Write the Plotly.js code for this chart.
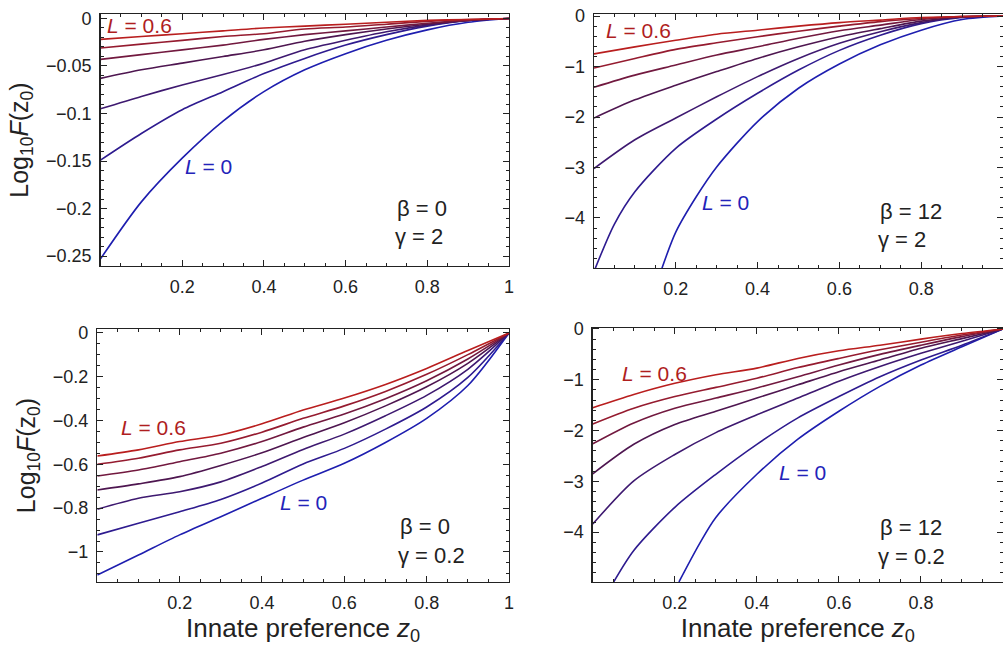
<!DOCTYPE html>
<html>
<head>
<meta charset="utf-8">
<script src="https://cdn.plot.ly/plotly-3.0.1.min.js"></script>
<style>html,body{margin:0;padding:0;background:#fff}#chart{width:1003px;height:652px}</style>
</head>
<body>
<div id="chart"></div>
<script>
// ---------- data ----------
const L_values = [0, 0.1, 0.2, 0.3, 0.4, 0.5, 0.6];
const zGrid = [0, 0.1, 0.2, 0.3, 0.4, 0.5, 0.6, 0.7, 0.8, 0.9, 1.0];

// Panel A: beta = 0, gamma = 2 (rows: L = 0 ... 0.6)
const panelA_logF = [
  [-0.253, -0.193, -0.147, -0.108, -0.077, -0.054, -0.037, -0.023, -0.012, -0.004, 0],
  [-0.149, -0.121, -0.096, -0.077, -0.058, -0.042, -0.028, -0.017, -0.008, -0.002, 0],
  [-0.095, -0.082, -0.070, -0.059, -0.047, -0.033, -0.023, -0.014, -0.007, -0.002, 0],
  [-0.063, -0.054, -0.047, -0.040, -0.033, -0.024, -0.017, -0.011, -0.006, -0.002, 0],
  [-0.043, -0.038, -0.033, -0.028, -0.022, -0.017, -0.013, -0.009, -0.005, -0.002, 0],
  [-0.031, -0.027, -0.023, -0.019, -0.016, -0.011, -0.009, -0.006, -0.003, -0.001, 0],
  [-0.022, -0.019, -0.016, -0.013, -0.010, -0.008, -0.006, -0.004, -0.002, -0.001, 0]
];

// Panel B: beta = 12, gamma = 2
const panelB_z_L0 = [0.166, 0.2, 0.25, 0.3, 0.4, 0.5, 0.6, 0.7, 0.8, 0.9, 1.0];
const panelB_logF_L0 = [-5.0, -4.28, -3.58, -2.99, -2.09, -1.43, -0.95, -0.57, -0.28, -0.07, 0];
const panelB_z_L1 = [0.003, 0.05, 0.1, 0.2, 0.3, 0.4, 0.5, 0.6, 0.7, 0.8, 0.9, 1.0];
const panelB_logF_L1 = [-5.0, -4.12, -3.48, -2.62, -2.04, -1.53, -1.07, -0.68, -0.38, -0.15, -0.03, 0];
const panelB_logF_rest = [
  [-3.02, -2.45, -2.02, -1.60, -1.20, -0.84, -0.54, -0.31, -0.13, -0.02, 0],
  [-2.02, -1.66, -1.37, -1.10, -0.84, -0.61, -0.41, -0.25, -0.10, -0.02, 0],
  [-1.41, -1.17, -0.97, -0.77, -0.61, -0.44, -0.29, -0.18, -0.07, -0.01, 0],
  [-1.03, -0.84, -0.66, -0.53, -0.41, -0.30, -0.20, -0.11, -0.05, -0.01, 0],
  [-0.75, -0.61, -0.48, -0.36, -0.28, -0.20, -0.13, -0.08, -0.03, -0.01, 0]
];

// Panel C: beta = 0, gamma = 0.2
const panelC_logF = [
  [-1.105, -1.014, -0.922, -0.839, -0.755, -0.672, -0.595, -0.500, -0.390, -0.240, 0],
  [-0.922, -0.869, -0.816, -0.760, -0.685, -0.598, -0.527, -0.439, -0.338, -0.203, 0],
  [-0.805, -0.755, -0.725, -0.680, -0.610, -0.532, -0.462, -0.378, -0.285, -0.166, 0],
  [-0.717, -0.689, -0.656, -0.605, -0.547, -0.477, -0.410, -0.333, -0.246, -0.139, 0],
  [-0.653, -0.626, -0.588, -0.549, -0.496, -0.430, -0.370, -0.300, -0.218, -0.119, 0],
  [-0.600, -0.572, -0.534, -0.504, -0.453, -0.390, -0.333, -0.267, -0.189, -0.099, 0],
  [-0.562, -0.534, -0.496, -0.466, -0.415, -0.352, -0.297, -0.235, -0.162, -0.080, 0]
];

// Panel D: beta = 12, gamma = 0.2
const panelD_z_L0 = [0.21, 0.26, 0.3, 0.4, 0.5, 0.6, 0.7, 0.8, 0.9, 1.0];
const panelD_logF_L0 = [-4.98, -4.23, -3.71, -2.86, -2.17, -1.62, -1.13, -0.71, -0.35, 0];
const panelD_z_L1 = [0.051, 0.1, 0.2, 0.3, 0.4, 0.5, 0.6, 0.7, 0.8, 0.9, 1.0];
const panelD_logF_L1 = [-4.98, -4.36, -3.51, -2.86, -2.27, -1.75, -1.33, -0.94, -0.61, -0.32, 0];
const panelD_logF_rest = [
  [-3.84, -2.99, -2.47, -2.04, -1.69, -1.36, -1.03, -0.74, -0.48, -0.24, 0],
  [-2.85, -2.27, -1.88, -1.62, -1.36, -1.10, -0.84, -0.61, -0.38, -0.19, 0],
  [-2.26, -1.85, -1.56, -1.36, -1.16, -0.94, -0.71, -0.50, -0.32, -0.15, 0],
  [-1.87, -1.56, -1.33, -1.15, -0.97, -0.76, -0.58, -0.41, -0.26, -0.12, 0],
  [-1.55, -1.29, -1.07, -0.90, -0.77, -0.58, -0.43, -0.32, -0.20, -0.09, 0]
];

// tick labels
const xTickVals = [0.2, 0.4, 0.6, 0.8, 1];
const xTickText = ["0.2", "0.4", "0.6", "0.8", "1"];
const yTickValsA = [0, -0.05, -0.1, -0.15, -0.2, -0.25];
const yTickTextA = ["0", "\u22120.05", "\u22120.1", "\u22120.15", "\u22120.2", "\u22120.25"];
const yTickValsB = [0, -1, -2, -3, -4];
const yTickTextB = ["0", "\u22121", "\u22122", "\u22123", "\u22124"];
const yTickValsC = [0, -0.2, -0.4, -0.6, -0.8, -1];
const yTickTextC = ["0", "\u22120.2", "\u22120.4", "\u22120.6", "\u22120.8", "\u22121"];

// ---------- styling ----------
function lineColor(i) {
  const t = i / 6;
  const blue = [30, 30, 175], mid = [78, 22, 80], red = [185, 30, 30];
  let a, b, u;
  if (t <= 0.5) { a = blue; b = mid; u = t / 0.5; } else { a = mid; b = red; u = (t - 0.5) / 0.5; }
  const c = a.map((v, k) => Math.round(v + (b[k] - v) * u));
  return 'rgb(' + c.join(',') + ')';
}

const traces = [];
function addTrace(x, y, i, ax) {
  traces.push({
    x: x, y: y, type: 'scatter', mode: 'lines',
    name: 'L = ' + L_values[i],
    xaxis: 'x' + ax, yaxis: 'y' + ax,
    line: { color: lineColor(i), width: 1.6, shape: 'spline', smoothing: 0.8 },
    hoverinfo: 'skip', showlegend: false
  });
}
panelA_logF.forEach((row, i) => addTrace(zGrid, row, i, ''));
addTrace(panelB_z_L0, panelB_logF_L0, 0, '2');
addTrace(panelB_z_L1, panelB_logF_L1, 1, '2');
panelB_logF_rest.forEach((row, i) => addTrace(zGrid, row, i + 2, '2'));
panelC_logF.forEach((row, i) => addTrace(zGrid, row, i, '3'));
addTrace(panelD_z_L0, panelD_logF_L0, 0, '4');
addTrace(panelD_z_L1, panelD_logF_L1, 1, '4');
panelD_logF_rest.forEach((row, i) => addTrace(zGrid, row, i + 2, '4'));

const FONT = 'Liberation Sans, Arial, sans-serif';
const tickFont = { family: FONT, size: 18, color: '#222' };

function xAxis(domain, anchor, withTitle) {
  const ax = {
    domain: domain, anchor: anchor, range: [0, 1],
    showline: true, linecolor: '#222', linewidth: 1.4, mirror: 'ticks',
    ticks: 'inside', ticklen: 6, tickwidth: 1, tickcolor: '#222',
    tickmode: 'array', tickvals: xTickVals, ticktext: xTickText,
    tickfont: tickFont, ticklabelstandoff: 4,
    minor: { ticks: 'inside', ticklen: 3, dtick: 0.05, tick0: 0, tickcolor: '#222', tickwidth: 1 },
    showgrid: false, zeroline: false, fixedrange: true
  };
  if (withTitle) {
    ax.title = { text: 'Innate preference <i>z</i><sub>0</sub>', font: { family: FONT, size: 26, color: '#222' }, standoff: 6 };
  }
  return ax;
}
function yAxis(domain, anchor, range, vals, text, minorD, withTitle) {
  const ax = {
    domain: domain, anchor: anchor, range: range,
    showline: true, linecolor: '#222', linewidth: 1.4, mirror: 'ticks',
    ticks: 'inside', ticklen: 6, tickwidth: 1, tickcolor: '#222',
    tickmode: 'array', tickvals: vals, ticktext: text,
    tickfont: tickFont, ticklabelstandoff: 4,
    minor: { ticks: 'inside', ticklen: 3, dtick: minorD, tick0: 0, tickcolor: '#222', tickwidth: 1 },
    showgrid: false, zeroline: false, fixedrange: true
  };
  if (withTitle) {
    ax.title = { text: 'Log<sub>10</sub><i>F</i>(z<sub>0</sub>)', font: { family: FONT, size: 25, color: '#222' }, standoff: 10 };
  }
  return ax;
}

const RED = 'rgb(175,30,30)', BLUE = 'rgb(35,35,185)', BLK = '#222';
function ann(text, x, y, ax, color, size) {
  return { text: text, x: x, y: y, xref: 'x' + ax, yref: 'y' + ax, showarrow: false,
           xanchor: 'left', yanchor: 'middle', font: { family: FONT, size: size, color: color } };
}

const layout = {
  width: 1003, height: 652,
  margin: { l: 0, r: 0, t: 0, b: 0 },
  paper_bgcolor: '#fff', plot_bgcolor: '#fff',
  xaxis: xAxis([0.1002, 0.5075], 'y', false),
  yaxis: yAxis([0.592, 0.9785], 'x', [-0.2605, 0.0047], yTickValsA, yTickTextA, 0.01, true),
  xaxis2: xAxis([0.5922, 1.0], 'y2', false),
  yaxis2: yAxis([0.589, 0.9785], 'x2', [-4.99, 0.04], yTickValsB, yTickTextB, 0.2, false),
  xaxis3: xAxis([0.097, 0.5075], 'y3', true),
  yaxis3: yAxis([0.1074, 0.4954], 'x3', [-1.137, 0.018], yTickValsC, yTickTextC, 0.05, true),
  xaxis4: xAxis([0.591, 1.0], 'y4', true),
  yaxis4: yAxis([0.1074, 0.497], 'x4', [-4.98, 0.02], yTickValsB, yTickTextB, 0.2, false),
  annotations: [
    ann('<i>L</i> = 0.6', 0.012, -0.007, '', RED, 21),
    ann('<i>L</i> = 0', 0.203, -0.156, '', BLUE, 21),
    ann('\u03b2 = 0', 0.72, -0.2, '', BLK, 22),
    ann('\u03b3 = 2', 0.715, -0.2295, '', BLK, 22),

    ann('<i>L</i> = 0.6', 0.025, -0.28, '2', RED, 21),
    ann('<i>L</i> = 0', 0.26, -3.70, '2', BLUE, 21),
    ann('\u03b2 = 12', 0.695, -3.88, '2', BLK, 22),
    ann('\u03b3 = 2', 0.69, -4.42, '2', BLK, 22),

    ann('<i>L</i> = 0.6', 0.053, -0.434, '3', RED, 21),
    ann('<i>L</i> = 0', 0.44, -0.776, '3', BLUE, 21),
    ann('\u03b2 = 0', 0.73, -0.886, '3', BLK, 22),
    ann('\u03b3 = 0.2', 0.725, -1.014, '3', BLK, 22),

    ann('<i>L</i> = 0.6', 0.067, -0.88, '4', RED, 21),
    ann('<i>L</i> = 0', 0.449, -2.83, '4', BLUE, 21),
    ann('\u03b2 = 12', 0.695, -3.90, '4', BLK, 22),
    ann('\u03b3 = 0.2', 0.69, -4.47, '4', BLK, 22)
  ]
};

Plotly.newPlot('chart', traces, layout, { staticPlot: true, displayModeBar: false });
</script>
</body>
</html>
